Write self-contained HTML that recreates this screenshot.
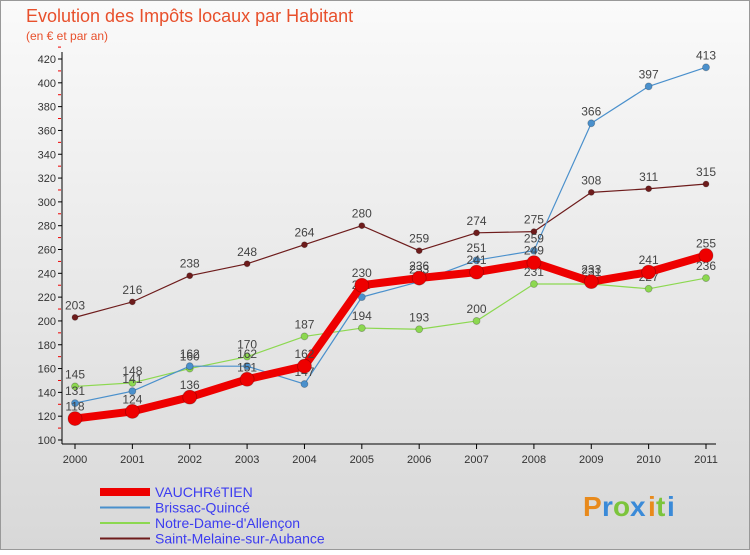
<!DOCTYPE html>
<html><head><meta charset="utf-8"><style>
body{margin:0;width:750px;height:550px;overflow:hidden;font-family:"Liberation Sans",sans-serif}
</style></head><body>
<svg width="750" height="550" xmlns="http://www.w3.org/2000/svg" style="font-family:'Liberation Sans',sans-serif">
<defs><linearGradient id="bg" x1="0" y1="0" x2="0" y2="1"><stop offset="0" stop-color="#fafafa"/><stop offset="1" stop-color="#d8d8d8"/></linearGradient></defs>
<rect x="0.5" y="0.5" width="749" height="549" fill="url(#bg)" stroke="#999"/>
<text x="26" y="22" font-size="18" fill="#e8502c">Evolution des Impôts locaux par Habitant</text>
<text x="26" y="40" font-size="12" fill="#e8502c">(en € et par an)</text>
<g id="axes"></g><g id="series"></g><g id="legend"></g>
<g font-size="28" font-weight="bold">
<text x="583" y="516" fill="#e88a1c">P</text><text x="602" y="516" fill="#3a8ad8">r</text><text x="613" y="516" fill="#7cc43c">o</text><text x="630" y="516" fill="#3a8ad8">x</text><text x="648" y="516" fill="#e88a1c">i</text><text x="656" y="516" fill="#7cc43c">t</text><text x="667" y="516" fill="#3a8ad8">i</text>
</g>
</svg>
<script>
const years=["2000","2001","2002","2003","2004","2005","2006","2007","2008","2009","2010","2011"];
const yTicks=[100,120,140,160,180,200,220,240,260,280,300,320,340,360,380,400,420];
const vauchretien=[118,124,136,151,162,230,236,241,249,233,241,255];
const brissac=[131,141,162,162,147,220,233,251,259,366,397,413];
const notreDame=[145,148,160,170,187,194,193,200,231,231,227,236];
const saintMelaine=[203,216,238,248,264,280,259,274,275,308,311,315];
const NS="http://www.w3.org/2000/svg";
function X(i){return 75+i*(706-75)/11;}
function Y(v){return 440-(v-100)*(381/320);}
function mk(t,a,p){const e=document.createElementNS(NS,t);for(const k in a)e.setAttribute(k,a[k]);p.appendChild(e);return e;}
const ax=document.getElementById('axes');
mk('line',{x1:62,y1:52,x2:62,y2:444,stroke:'#000'},ax);
mk('line',{x1:62,y1:444,x2:716,y2:444,stroke:'#000'},ax);
yTicks.forEach(v=>{
 mk('line',{x1:58,y1:Y(v),x2:62,y2:Y(v),stroke:'#000'},ax);
 mk('line',{x1:58,y1:Y(v+10),x2:61,y2:Y(v+10),stroke:'#e00'},ax);
 const t=mk('text',{x:56,y:Y(v)+4,'font-size':11,'text-anchor':'end',fill:'#333'},ax);
 
 
 t.textContent=v;
});
years.forEach((y,i)=>{
 mk('line',{x1:X(i),y1:444,x2:X(i),y2:449,stroke:'#000'},ax);
 const t=mk('text',{x:X(i),y:463,'font-size':11,'text-anchor':'middle',fill:'#333'},ax);
 
 
 t.textContent=y;
});
const series=[
 {name:'Saint-Melaine-sur-Aubance',d:saintMelaine,c:'#6e1c1c',w:1.2,r:3},
 {name:'Notre-Dame-d\'Allençon',d:notreDame,c:'#8cd850',w:1.2,r:3.5},
 {name:'Brissac-Quincé',d:brissac,c:'#4a90cc',w:1.2,r:3.5},
 {name:'VAUCHRéTIEN',d:vauchretien,c:'#ee0000',w:8,r:7}
];
const sg=document.getElementById('series');
series.forEach(s=>{
 const g=mk('g',{},sg);
 
 
 mk('polyline',{points:s.d.map((v,i)=>X(i)+','+Y(v)).join(' '),fill:'none',stroke:s.c,'stroke-width':s.w,'stroke-linejoin':'round'},g);
 s.d.forEach((v,i)=>{
  const c=mk('circle',{cx:X(i),cy:Y(v),r:s.r,fill:s.c,stroke:'rgba(0,0,0,0.25)','stroke-width':0.8},g);
  
  
  const t=mk('text',{x:X(i),y:Y(v)-8,'font-size':12,'text-anchor':'middle',fill:'#444'},g);
  
  
  t.textContent=v;
 });
});
const lg=document.getElementById('legend');
const order=[series[3],series[2],series[1],series[0]];
order.forEach((s,i)=>{
 const y=492+i*15.5;
 const g=mk('g',{},lg);
 
 
 mk('line',{x1:100,y1:y,x2:150,y2:y,stroke:s.c,'stroke-width':s.w===8?8:2},g);
 const t=mk('text',{x:155,y:y+5,'font-size':14,fill:'#3c3cf0'},g);
 t.textContent=s.name;
});
</script>
</body></html>
